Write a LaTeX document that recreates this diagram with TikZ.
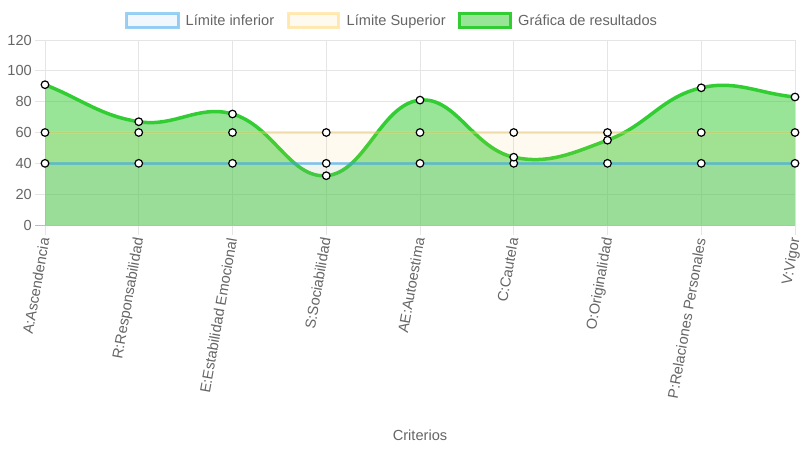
\documentclass[tikz,border=0pt]{standalone}
\usepackage{fontspec}
\setmainfont{Liberation Sans}
\definecolor{txt}{HTML}{666666}
\definecolor{gridc}{HTML}{E5E5E5}
\definecolor{zeroc}{HTML}{BDBDBD}
\definecolor{blueln}{RGB}{54,162,235}
\definecolor{yelln}{RGB}{255,206,86}
\definecolor{greenln}{RGB}{50,205,50}
\begin{document}
\begin{tikzpicture}[x=1pt,y=-1pt,
  font=\fontsize{14.6}{17}\selectfont, text=txt,
  gridline/.style={draw=gridc, line width=1pt},
  pt/.style={circle, fill=white, draw=black, line width=1.2pt, minimum size=7.6pt, inner sep=0pt},
  catlabel/.style={anchor=east, rotate=80, inner sep=0pt, text height=10.5pt, text depth=3pt},
  ticklabel/.style={anchor=east, inner sep=0pt},
  legtext/.style={anchor=base west, inner sep=0pt},
  bluefill/.style={fill=blueln, fill opacity=0.07},
  yelfill/.style={fill=yelln, fill opacity=0.09},
  greenfill/.style={fill=greenln, fill opacity=0.5},
  blueline/.style={draw=blueln, draw opacity=0.5, line width=3pt},
  yelline/.style={draw=yelln, draw opacity=0.42, line width=3pt},
  greenline/.style={draw=greenln, line width=3.5pt, line join=round},
  legbox/.style={line width=3pt}
]
\useasboundingbox (0,0) rectangle (800,450);
\fill[white] (0,0) rectangle (800,450);

% ---- grid ----
\foreach \v in {1,...,6}{
  \draw[gridline] (35,{225-\v*30.8333}) -- (795,{225-\v*30.8333});
}
\foreach \x in {45,138.75,232.5,326.25,420,513.75,607.5,701.25,795}{
  \draw[gridline] (\x,40) -- (\x,235);
}
\draw[draw=zeroc, line width=1pt] (35,225) -- (795,225);

% ---- y tick labels ----
\foreach \v/\n in {0/y0,1/y20,2/y40,3/y60,4/y80,5/y100,6/y120}{
  \pgfmathtruncatemacro{\lab}{\v*20}
  \node[ticklabel] (\n) at (32,{225-\v*30.8333}) {\lab};
}

% ---- data coordinates ----
\coordinate (pA) at (45,84.7);
\coordinate (pR) at (138.75,121.7);
\coordinate (pE) at (232.5,114.0);
\coordinate (pS) at (326.25,175.7);
\coordinate (pAE) at (420,100.1);
\coordinate (pC) at (513.75,157.2);
\coordinate (pO) at (607.5,140.2);
\coordinate (pP) at (701.25,87.8);
\coordinate (pV) at (795,97.0);
\coordinate (bl) at (45,225);
\coordinate (br) at (795,225);
\coordinate (l40a) at (45,163.33);
\coordinate (l40b) at (795,163.33);
\coordinate (l60a) at (45,132.5);
\coordinate (l60b) at (795,132.5);

\def\curve{(pA) .. controls (82.5,99.5) and (99.95,115.6) .. (pR)
  .. controls (174.95,127.4) and (198.3,104.15) .. (pE)
  .. controls (273.3,125.75) and (290.05,178.4) .. (pS)
  .. controls (365.05,172.8) and (380.8,104.0) .. (pAE)
  .. controls (455.8,96.6) and (473.6,148.6) .. (pC)
  .. controls (548.6,164.65) and (572.25,153.25) .. (pO)
  .. controls (647.25,125.5) and (661.3,97.0) .. (pP)
  .. controls (736.25,79.7) and (757.5,93.3) .. (pV)}

% ---- results dataset ----
\fill[greenfill] \curve -- (br) -- (bl) -- cycle;
\draw[greenline] \curve;

% ---- upper limit dataset ----
\fill[yelfill] (l60a) -- (l60b) -- (br) -- (bl) -- cycle;
\draw[yelline] (l60a) -- (l60b);

% ---- lower limit dataset ----
\fill[bluefill] (l40a) -- (l40b) -- (br) -- (bl) -- cycle;
\draw[blueline] (l40a) -- (l40b);

% ---- points ----
\foreach \x [count=\i] in {45,138.75,232.5,326.25,420,513.75,607.5,701.25,795}{
  \node[pt] (u\i) at (\x,132.5) {};
  \node[pt] (d\i) at (\x,163.33) {};
}
\foreach \c in {pA,pR,pE,pS,pAE,pC,pO,pP,pV}{
  \node[pt] (n\c) at (\c) {};
}

% ---- category labels ----
\node[catlabel] (cA) at (46,238) {A:Ascendencia};
\node[catlabel] (cR) at (139.75,238) {R:Responsabilidad};
\node[catlabel] (cE) at (233.5,238) {E:Estabilidad Emocional};
\node[catlabel] (cS) at (327.25,238) {S:Sociabilidad};
\node[catlabel] (cAE) at (421,238) {AE:Autoestima};
\node[catlabel] (cC) at (514.75,238) {C:Cautela};
\node[catlabel] (cO) at (608.5,238) {O:Originalidad};
\node[catlabel] (cP) at (702.25,238) {P:Relaciones Personales};
\node[catlabel] (cV) at (796,238) {V:Vigor};

\node (xt) at (420,435) {Criterios};

% ---- legend ----
\fill[bluefill] (126.5,13.5) rectangle (178.5,27.5);
\draw[blueline] (126.5,13.5) rectangle (178.5,27.5);
\node[legtext] (lg1) at (185.5,25.5) {Límite inferior};
\fill[yelfill] (288.2,13.5) rectangle (338.5,27.5);
\draw[yelline] (288.2,13.5) rectangle (338.5,27.5);
\node[legtext] (lg2) at (346.5,25.5) {Límite Superior};
\fill[greenfill] (459.5,13.5) rectangle (510.2,27.5);
\draw[draw=greenln, line width=3pt] (459.5,13.5) rectangle (510.2,27.5);
\node[legtext] (lg3) at (518,25.5) {Gráfica de resultados};
\end{tikzpicture}
\end{document}
